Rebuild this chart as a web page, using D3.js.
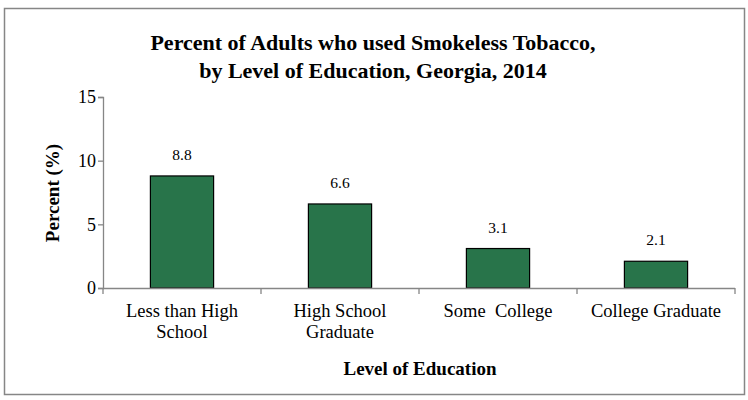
<!DOCTYPE html>
<html><head><meta charset="utf-8">
<script src="https://cdn.jsdelivr.net/npm/d3@7"></script>
<style>body{margin:0;background:#fff}svg{display:block}text{font-family:"Liberation Serif",serif;white-space:pre}</style>
</head><body>
<script>
const categories = [["Less than High","School"],["High School","Graduate"],["Some  College"],["College Graduate"]];
const values = [8.8, 6.6, 3.1, 2.1];
const valueLabels = ["8.8","6.6","3.1","2.1"];
const yTicks = [0,5,10,15];
const titleLines = ["Percent of Adults who used Smokeless Tobacco,","by Level of Education, Georgia, 2014"];

(function(){
const W=748,H=400;
const svg=d3.select("body").append("svg").attr("width",W).attr("height",H);
svg.append("rect").attr("x",4.5).attr("y",8.5).attr("width",740).attr("height",386)
  .attr("fill","#fff").attr("stroke","#868686").attr("stroke-width",1.5);

const pLeft=103,pRight=735,pTop=97,pBottom=288;
const x=d3.scaleBand().domain(d3.range(categories.length)).range([pLeft,pRight]).paddingInner(0.6).paddingOuter(0.3);
const y=d3.scaleLinear().domain([0,15]).range([pBottom,pTop]);

svg.selectAll("text.title").data(titleLines).join("text").attr("class","title")
  .attr("x",373).attr("y",(d,i)=>50+i*28).attr("text-anchor","middle")
  .attr("font-weight","bold").attr("font-size",22).text(d=>d);

// y axis
const gy=svg.append("g").attr("transform",`translate(${pLeft},0)`)
  .call(d3.axisLeft(y).tickValues(yTicks).tickSize(5).tickPadding(2));
gy.attr("font-family",null);
gy.select(".domain").attr("stroke","#868686").attr("stroke-width",1.3);
gy.selectAll(".tick line").attr("stroke","#868686").attr("stroke-width",1.3);
gy.selectAll(".tick text").attr("font-size",18).attr("fill","#000");

// bars
svg.selectAll("rect.bar").data(values).join("rect").attr("class","bar")
  .attr("x",(d,i)=>x(i)).attr("width",x.bandwidth())
  .attr("y",d=>y(d)).attr("height",d=>y(0)-y(d))
  .attr("fill","#28744a").attr("stroke","#000").attr("stroke-width",1.2);

svg.selectAll("text.val").data(values).join("text").attr("class","val")
  .attr("x",(d,i)=>x(i)+x.bandwidth()/2).attr("y",d=>y(d)-16)
  .attr("text-anchor","middle").attr("font-size",15.5)
  .text((d,i)=>valueLabels[i]);

// x axis
const step=(pRight-pLeft)/categories.length;
svg.append("line").attr("x1",pLeft).attr("x2",pRight).attr("y1",pBottom+0.5).attr("y2",pBottom+0.5)
  .attr("stroke","#868686").attr("stroke-width",1.3);
svg.selectAll("line.xt").data(d3.range(categories.length+1)).join("line").attr("class","xt")
  .attr("x1",i=>pLeft+i*step).attr("x2",i=>pLeft+i*step).attr("y1",pBottom).attr("y2",pBottom+6)
  .attr("stroke","#868686").attr("stroke-width",1.3);

const lab=svg.selectAll("text.xl").data(categories).join("text").attr("class","xl")
  .attr("text-anchor","middle").attr("font-size",18.5);
lab.each(function(d,i){
  const t=d3.select(this);
  d.forEach((s,j)=>t.append("tspan").attr("x",x(i)+x.bandwidth()/2).attr("y",317+j*21).text(s));
});

svg.append("text").attr("x",420).attr("y",375).attr("text-anchor","middle")
  .attr("font-weight","bold").attr("font-size",19).text("Level of Education");
svg.append("text").attr("transform","translate(59,193) rotate(-90)").attr("text-anchor","middle")
  .attr("font-weight","bold").attr("font-size",19).text("Percent (%)");
})();
</script>
</body></html>
